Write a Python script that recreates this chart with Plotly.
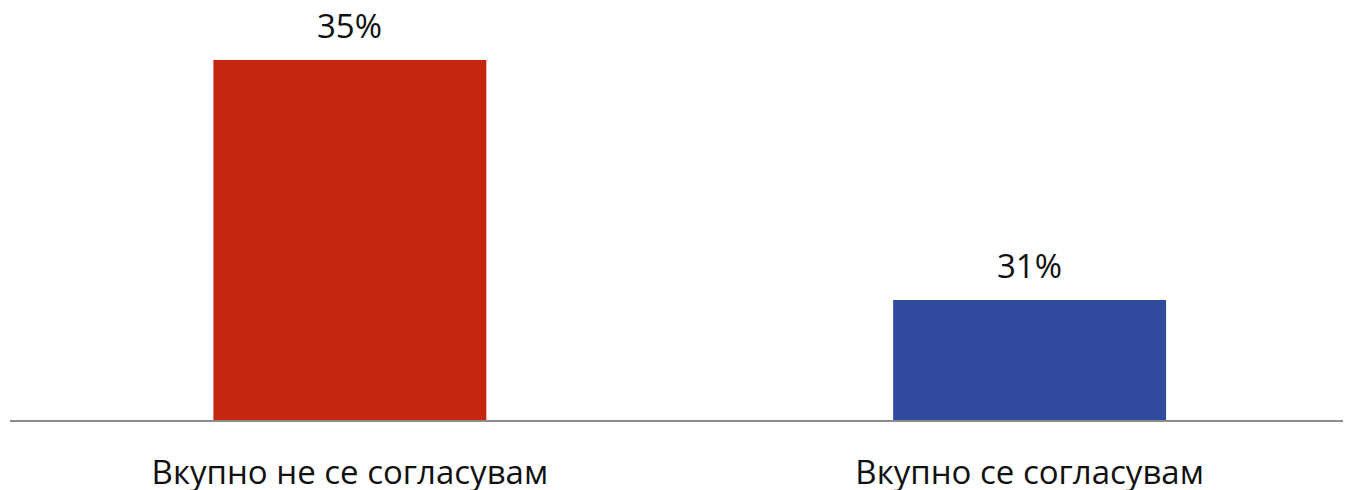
import plotly.graph_objects as go

categories = ["Вкупно не се согласувам", "Вкупно се согласувам"]
values = [35, 31]
colors = ["#C5260E", "#2F4A9F"]

xpos = list(range(len(categories)))

fig = go.Figure()
fig.add_trace(go.Bar(
    x=xpos, y=values, width=0.4015,
    marker=dict(color=colors, line=dict(width=0)),
    hoverinfo="skip",
))

for xi, v in zip(xpos, values):
    fig.add_annotation(x=xi, y=v, text=f"{v}%", showarrow=False,
                       yanchor="bottom", yshift=11, borderpad=0,
                       font=dict(family="Open Sans", size=33, color="#111111"))

# page body has an 8px margin, so the figure is offset by 8px
fig.update_layout(
    width=1343, height=482,
    margin=dict(l=2, r=0, t=2, b=70, autoexpand=False),
    paper_bgcolor="white", plot_bgcolor="white",
    showlegend=False,
    font=dict(family="Open Sans", size=33, color="#111111"),
    xaxis=dict(range=[-0.5, 1.4728], tickvals=xpos, ticktext=categories,
               automargin=False,
               showgrid=False, zeroline=False, showline=True,
               linecolor="#8C8C8C", linewidth=1.5, ticks="",
               ticklabelstandoff=23,
               tickfont=dict(family="Open Sans", size=33, color="#111111")),
    yaxis=dict(range=[29, 29 + 410 / 60], visible=False, showgrid=False,
               zeroline=False, automargin=False),
)

fig.write_html("out.html")
